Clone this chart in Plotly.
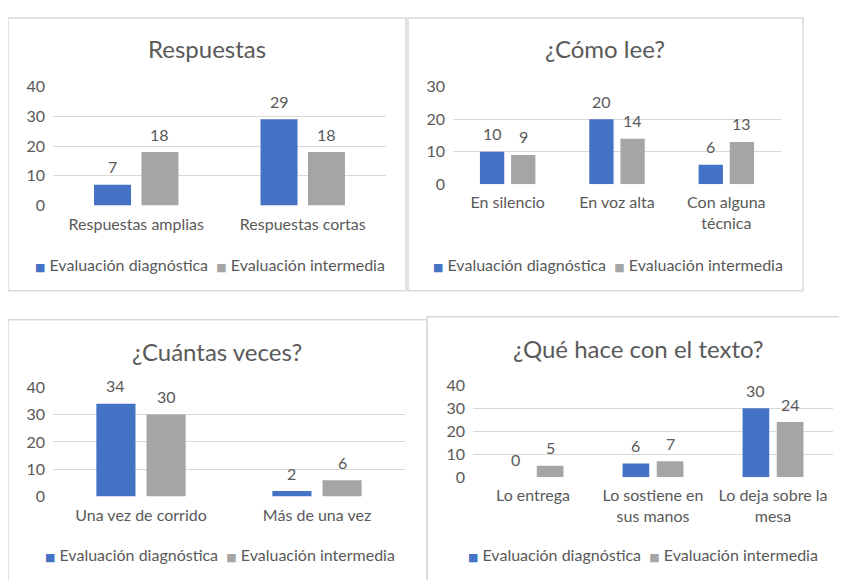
import plotly.graph_objects as go

# the page puts the figure 8px in from every window edge, so the figure is made
# that much smaller and the reference's pixel positions are shifted to match
PAGE_MARGIN = 8
W, H = 847 - 2 * PAGE_MARGIN, 588 - 2 * PAGE_MARGIN
BLUE = "#4472C4"
GRAY = "#A5A5A5"
TEXT = "#595959"
GRID = "#D9D9D9"
FONT = "Lato"

SERIES = ("Evaluación diagnóstica", "Evaluación intermedia")

respuestas_cats = ["Respuestas amplias", "Respuestas cortas"]
respuestas_diag = [7, 29]
respuestas_inter = [18, 18]

como_cats = ["En silencio", "En voz alta", "Con alguna<br>técnica"]
como_diag = [10, 20, 6]
como_inter = [9, 14, 13]

veces_cats = ["Una vez de corrido", "Más de una vez"]
veces_diag = [34, 2]
veces_inter = [30, 6]

texto_cats = ["Lo entrega", "Lo sostiene en<br>sus manos", "Lo deja sobre la<br>mesa"]
texto_diag = [0, 6, 30]
texto_inter = [5, 7, 24]

BARGAP = 0.43
BARGROUPGAP = 0.22

# reference pixel boxes: plot area (x0, x1, y_top, y_zero), frame, title and legend centres
PANELS = [
    dict(title="Respuestas", cats=respuestas_cats, diag=respuestas_diag, inter=respuestas_inter,
         ymax=40, plot=(53, 386, 79, 202), frame=(8, 406, 8, 290), title_xy=(207, 40), legend_xy=(210, 263)),
    dict(title="¿Cómo lee?", cats=como_cats, diag=como_diag, inter=como_inter,
         ymax=30, plot=(453, 781, 79, 180), frame=(408, 803, 8, 290), title_xy=(605, 40), legend_xy=(608, 263)),
    dict(title="¿Cuántas veces?", cats=veces_cats, diag=veces_diag, inter=veces_inter,
         ymax=40, plot=(53, 405, 390, 503), frame=(8, 427, 320, 600), title_xy=(217, 353), legend_xy=(220, 563)),
    dict(title="¿Qué hace con el texto?", cats=texto_cats, diag=texto_diag, inter=texto_inter,
         ymax=40, plot=(473, 833, 388, 483), frame=(427, 860, 317, 600), title_xy=(638, 350), legend_xy=(643, 563)),
]


def px(x):
    return (x - PAGE_MARGIN) / W


def py(y):
    return 1 - (y - PAGE_MARGIN) / H


def legend_text():
    swatch = '<span style="color:{};font-family:DejaVu Sans;font-size:11px">■</span>'
    return (f"{swatch.format(BLUE)}&nbsp;{SERIES[0]}&nbsp;&nbsp;"
            f"{swatch.format(GRAY)}&nbsp;{SERIES[1]}")


fig = go.Figure()
annotations = []
shapes = []
layout = {}

for idx, panel in enumerate(PANELS, start=1):
    sfx = "" if idx == 1 else str(idx)
    xa, ya = f"x{sfx}", f"y{sfx}"
    x0, x1, yt, yz = panel["plot"]

    for name, values, color in ((SERIES[0], panel["diag"], BLUE), (SERIES[1], panel["inter"], GRAY)):
        fig.add_trace(go.Bar(
            x=panel["cats"], y=values, name=name, marker=dict(color=color, line=dict(width=0)),
            xaxis=xa, yaxis=ya, showlegend=False, hoverinfo="x+y+name",
        ))

    # value labels sit above each bar
    slot = (x1 - x0) / len(panel["cats"]) * (1 - BARGAP) / 2
    for shift, values in ((-slot / 2, panel["diag"]), (slot / 2, panel["inter"])):
        for cat, val in zip(panel["cats"], values):
            annotations.append(dict(
                x=cat, y=val, xref=xa, yref=ya, text=str(val), showarrow=False,
                xshift=shift, yshift=18, yanchor="middle",
                font=dict(family=FONT, size=16, color=TEXT),
            ))

    annotations.append(dict(
        x=px(panel["title_xy"][0]), y=py(panel["title_xy"][1]), xref="paper", yref="paper",
        text=panel["title"], showarrow=False, xanchor="center", yanchor="middle",
        font=dict(family=FONT, size=24, color=TEXT),
    ))
    annotations.append(dict(
        x=px(panel["legend_xy"][0]), y=py(panel["legend_xy"][1]), xref="paper", yref="paper",
        text=legend_text(), showarrow=False, xanchor="center", yanchor="middle",
        font=dict(family=FONT, size=16, color=TEXT),
    ))

    fx0, fx1, fy0, fy1 = panel["frame"]
    shapes.append(dict(type="rect", xref="paper", yref="paper",
                       x0=px(fx0), x1=px(fx1), y0=py(fy1), y1=py(fy0),
                       line=dict(color=GRID, width=1.5), fillcolor="rgba(0,0,0,0)", layer="below"))

    layout[f"xaxis{sfx}"] = dict(
        domain=[px(x0), px(x1)], anchor=ya, type="category", showgrid=False, showline=False,
        zeroline=False, ticks="", ticklabelstandoff=7, fixedrange=True,
        tickfont=dict(family=FONT, size=16, color=TEXT),
    )
    layout[f"yaxis{sfx}"] = dict(
        domain=[py(yz), py(yt)], anchor=xa, range=[0, panel["ymax"]], dtick=10,
        showgrid=True, gridcolor=GRID, gridwidth=1, zeroline=False, showline=False,
        ticks="", ticklabelstandoff=7, fixedrange=True,
        tickfont=dict(family=FONT, size=16, color=TEXT),
    )

fig.update_layout(
    width=W, height=H, margin=dict(l=0, r=0, t=0, b=0),
    paper_bgcolor="white", plot_bgcolor="white",
    barmode="group", bargap=BARGAP, bargroupgap=BARGROUPGAP,
    annotations=annotations, shapes=shapes, **layout,
)

fig.write_html("out.html")
